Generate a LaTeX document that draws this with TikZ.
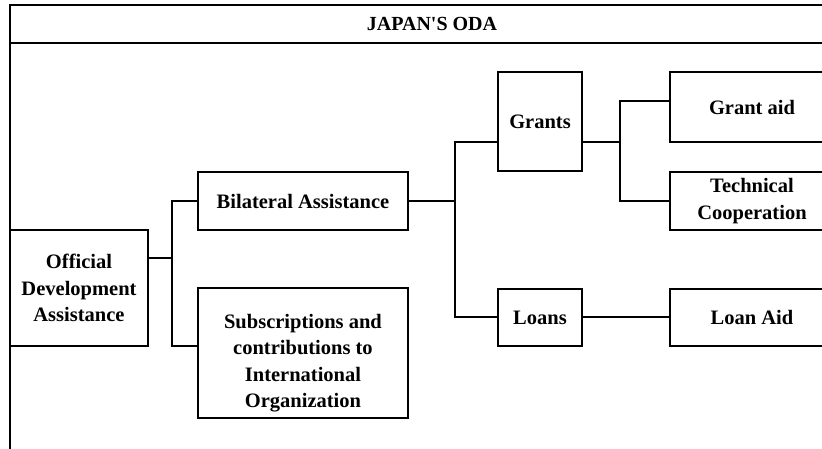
\documentclass[tikz,border=0pt]{standalone}
\usepackage{fontspec}
\setmainfont{Liberation Serif}
\begin{document}
\begin{tikzpicture}[x=1pt,y=-1pt,
  lw/.style={line width=1.25pt},
  bodyfont/.style={font=\bfseries\fontsize{20.5}{26.5}\selectfont},
  box/.style={draw,lw,align=center,inner sep=0pt,bodyfont},
  txt/.style={align=center,inner sep=0pt,bodyfont},
  conn/.style={lw}]
\useasboundingbox (0,0) rectangle (822,448);
\clip (0,0) rectangle (822,448);
% frame
\draw[lw] (822,5) -- (10,5) -- (10,449);
\draw[lw] (10,43) -- (822,43);
\node[font=\bfseries\fontsize{20}{24}\selectfont] (title) at (432,24) {JAPAN\textquotesingle S ODA};
% boxes
\node[box,minimum width=138pt,minimum height=116pt] (oda) at (79,288) {Official\\Development\\Assistance};
\node[box,minimum width=210pt,minimum height=58pt] (bil) at (303,201) {Bilateral Assistance};
\node[box,minimum width=210pt,minimum height=130pt] (sub) at (303,353) {};
\node[txt] (subt) at ([yshift=-10pt]sub.center) {Subscriptions and\\contributions to\\International\\Organization};
\node[box,minimum width=84pt,minimum height=99pt] (grants) at (540,121.5) {Grants};
\node[box,minimum width=84pt,minimum height=57pt] (loans) at (540,317.5) {Loans};
\node[box,minimum width=164pt,minimum height=70pt] (gaid) at (752,107) {Grant aid};
\node[box,minimum width=164pt,minimum height=58pt] (tech) at (752,201) {Technical\\Cooperation};
\node[box,minimum width=164pt,minimum height=57pt] (laid) at (752,317.5) {Loan Aid};
% junctions
\coordinate (j1) at (172,258);
\coordinate (j1b) at (172,346);
\coordinate (j2) at (455,201);
\coordinate (j2a) at (455,142);
\coordinate (j2b) at (455,317);
\coordinate (j3) at (620,142);
\coordinate (j3a) at (620,101);
\coordinate (j3b) at (620,201);
% connectors
\draw[conn] (oda.east |- j1) -- (j1);
\draw[conn] (bil.west) -| (j1);
\draw[conn] (sub.west |- j1b) -| (j1);
\draw[conn] (bil.east) -- (j2);
\draw[conn] (grants.west |- j2a) -| (j2);
\draw[conn] (loans.west |- j2b) -| (j2);
\draw[conn] (grants.east |- j3) -- (j3);
\draw[conn] (gaid.west |- j3a) -| (j3);
\draw[conn] (tech.west |- j3b) -| (j3);
\draw[conn] (loans.east |- j2b) -- (laid.west |- j2b);
\end{tikzpicture}
\end{document}
